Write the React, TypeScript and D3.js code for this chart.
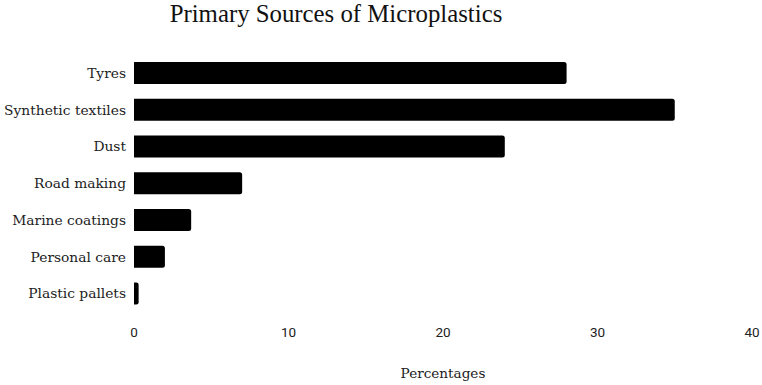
import React from "react";
import * as d3 from "d3";

const categories = ["Tyres", "Synthetic textiles", "Dust", "Road making", "Marine coatings", "Personal care", "Plastic pallets"];
const values = [28, 35, 24, 7, 3.7, 2, 0.3];
const xTicks = [0, 10, 20, 30, 40];

const W = 762, H = 385;

function barPath(x0: number, x1: number, y: number, h: number, r: number) {
  const rr = Math.min(r, (x1 - x0) / 2, h / 2);
  return `M${x0},${y}H${x1 - rr}Q${x1},${y} ${x1},${y + rr}V${y + h - rr}Q${x1},${y + h} ${x1 - rr},${y + h}H${x0}Z`;
}

export default function App() {
  const x = d3.scaleLinear().domain([0, 40]).range([134, 752]);
  const y = d3.scaleBand<string>().domain(categories).range([54.6, 311.85]).paddingInner(0.4).paddingOuter(0.2);
  const bw = y.bandwidth();
  return (
    <svg width={W} height={H} style={{ position: "absolute", left: 0, top: 0, background: "#fff" }}>
      <text x={336} y={22} textAnchor="middle" fontFamily="Liberation Serif" fontSize={24.8} fill="#111">Primary Sources of Microplastics</text>
      {categories.map((c, i) => (
        <g key={c}>
          <path d={barPath(x(0), x(values[i]), y(c)!, bw, 2.5)} fill="#000" />
          <text x={126} y={y(c)! + bw / 2} dy="0.35em" textAnchor="end" fontFamily="DejaVu Serif" fontSize={13.8} fill="#222">{c}</text>
        </g>
      ))}
      {xTicks.map(t => (
        <text key={t} x={x(t)} y={337} textAnchor="middle" fontFamily="Roboto" fontSize={13.5} fill="#222">{t}</text>
      ))}
      <text x={443} y={378} textAnchor="middle" fontFamily="DejaVu Serif" fontSize={13.6} fill="#222">Percentages</text>
    </svg>
  );
}
